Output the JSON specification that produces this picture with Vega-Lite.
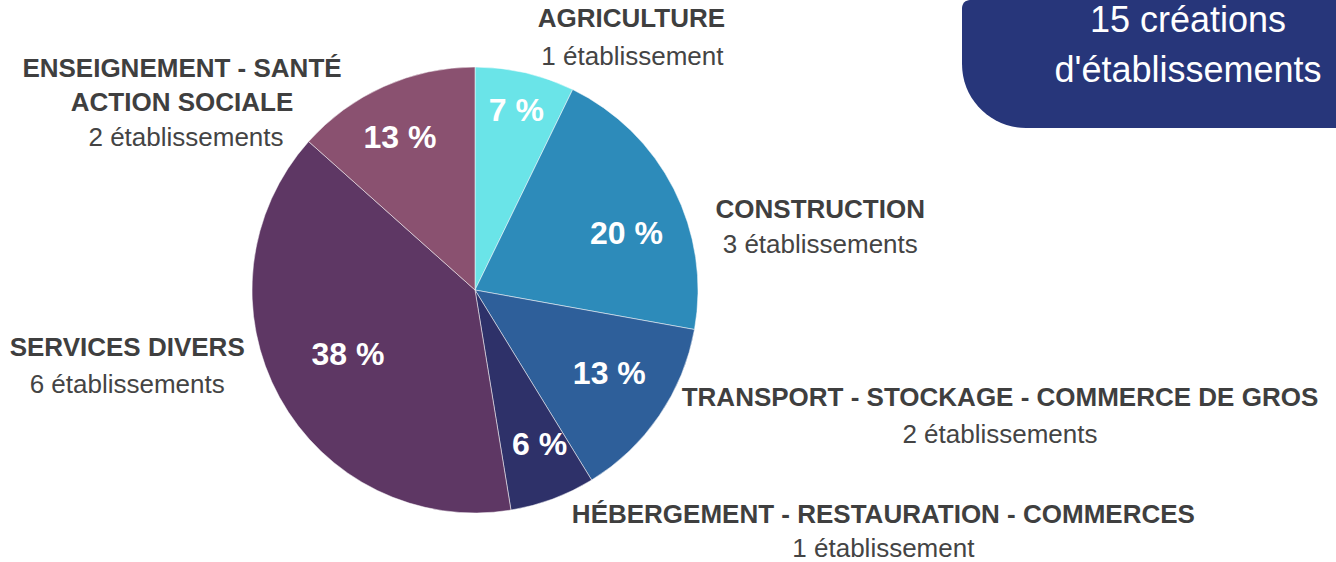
{
  "$schema": "https://vega.github.io/schema/vega-lite/v6.json",
  "background": "#ffffff",
  "padding": {"left": 0, "top": 0, "right": 0, "bottom": -18},
  "config": {"view": {"stroke": null}, "font": "Liberation Sans"},
  "datasets": {
    "pie": [
      {"ord": 1, "label": "AGRICULTURE", "value": 7, "pct": "7 %", "count": "1 établissement"},
      {"ord": 2, "label": "CONSTRUCTION", "value": 20, "pct": "20 %", "count": "3 établissements"},
      {"ord": 3, "label": "TRANSPORT - STOCKAGE - COMMERCE DE GROS", "value": 13, "pct": "13 %", "count": "2 établissements"},
      {"ord": 4, "label": "HÉBERGEMENT - RESTAURATION - COMMERCES", "value": 6, "pct": "6 %", "count": "1 établissement"},
      {"ord": 5, "label": "SERVICES DIVERS", "value": 38, "pct": "38 %", "count": "6 établissements"},
      {"ord": 6, "label": "ENSEIGNEMENT - SANTÉ\nACTION SOCIALE", "value": 13, "pct": "13 %", "count": "2 établissements"}
    ],
    "banner": [
      {"title": "15 créations\nd'établissements"}
    ]
  },
  "bounds": "flush",
  "spacing": 12,
  "hconcat": [
    {
      "width": 950,
      "height": 580,
      "data": {"name": "pie"},
      "transform": [
        {"stack": "value", "groupby": [], "sort": [{"field": "ord", "order": "ascending"}], "as": ["s0", "s1"]}
      ],
      "layer": [
        {
          "mark": {"type": "arc", "outerRadius": 223, "stroke": "#ffffff", "strokeWidth": 0.5},
          "encoding": {
            "theta": {"field": "s1", "type": "quantitative", "scale": {"nice": false, "zero": true}},
            "theta2": {"field": "s0"},
            "color": {
              "field": "label",
              "type": "nominal",
              "legend": null,
              "scale": {
                "domain": ["AGRICULTURE", "CONSTRUCTION", "TRANSPORT - STOCKAGE - COMMERCE DE GROS", "HÉBERGEMENT - RESTAURATION - COMMERCES", "SERVICES DIVERS", "ENSEIGNEMENT - SANTÉ\nACTION SOCIALE"],
                "range": ["#6ae4e8", "#2d8bba", "#2e5f9a", "#2e3169", "#5e3764", "#8a5170"]
              }
            }
          }
        },

        {"transform": [{"filter": "datum.ord === 1"}],
         "mark": {"type": "text", "radius": 165, "fontSize": 32, "fontWeight": "bold", "color": "#ffffff", "align": "center", "baseline": "middle", "dx": -31, "dy": -31},
         "encoding": {"theta": {"field": "s1", "type": "quantitative"}, "text": {"field": "pct"}}},
        {"transform": [{"filter": "datum.ord === 2"}],
         "mark": {"type": "text", "radius": 165, "fontSize": 32, "fontWeight": "bold", "color": "#ffffff", "align": "center", "baseline": "middle", "dx": -11, "dy": -85},
         "encoding": {"theta": {"field": "s1", "type": "quantitative"}, "text": {"field": "pct"}}},
        {"transform": [{"filter": "datum.ord === 3"}],
         "mark": {"type": "text", "radius": 165, "fontSize": 32, "fontWeight": "bold", "color": "#ffffff", "align": "center", "baseline": "middle", "dx": 48, "dy": -57},
         "encoding": {"theta": {"field": "s1", "type": "quantitative"}, "text": {"field": "pct"}}},
        {"transform": [{"filter": "datum.ord === 4"}],
         "mark": {"type": "text", "radius": 165, "fontSize": 32, "fontWeight": "bold", "color": "#ffffff", "align": "center", "baseline": "middle", "dx": 38, "dy": -8},
         "encoding": {"theta": {"field": "s1", "type": "quantitative"}, "text": {"field": "pct"}}},
        {"transform": [{"filter": "datum.ord === 5"}],
         "mark": {"type": "text", "radius": 165, "fontSize": 32, "fontWeight": "bold", "color": "#ffffff", "align": "center", "baseline": "middle", "dx": -4, "dy": 175},
         "encoding": {"theta": {"field": "s1", "type": "quantitative"}, "text": {"field": "pct"}}},
        {"transform": [{"filter": "datum.ord === 6"}],
         "mark": {"type": "text", "radius": 165, "fontSize": 32, "fontWeight": "bold", "color": "#ffffff", "align": "center", "baseline": "middle", "dx": -75, "dy": 13},
         "encoding": {"theta": {"field": "s1", "type": "quantitative"}, "text": {"field": "pct"}}},

        {"transform": [{"filter": "datum.ord === 1"}],
         "mark": {"type": "text", "radius": 300, "fontSize": 26, "fontWeight": "bold", "color": "#3f3f3f", "align": "center", "baseline": "alphabetic", "dx": 25, "dy": 7},
         "encoding": {"theta": {"field": "s1", "type": "quantitative"}, "text": {"field": "label"}}},
        {"transform": [{"filter": "datum.ord === 1"}],
         "mark": {"type": "text", "radius": 300, "fontSize": 26, "color": "#444444", "align": "center", "baseline": "alphabetic", "dx": 26, "dy": 45},
         "encoding": {"theta": {"field": "s1", "type": "quantitative"}, "text": {"field": "count"}}},

        {"transform": [{"filter": "datum.ord === 2"}],
         "mark": {"type": "text", "radius": 300, "fontSize": 26, "fontWeight": "bold", "color": "#3f3f3f", "align": "center", "baseline": "alphabetic", "dx": 50, "dy": -125},
         "encoding": {"theta": {"field": "s1", "type": "quantitative"}, "text": {"field": "label"}}},
        {"transform": [{"filter": "datum.ord === 2"}],
         "mark": {"type": "text", "radius": 300, "fontSize": 26, "color": "#444444", "align": "center", "baseline": "alphabetic", "dx": 50, "dy": -90},
         "encoding": {"theta": {"field": "s1", "type": "quantitative"}, "text": {"field": "count"}}},

        {"transform": [{"filter": "datum.ord === 3"}],
         "mark": {"type": "text", "radius": 300, "fontSize": 26, "fontWeight": "bold", "color": "#3f3f3f", "align": "center", "baseline": "alphabetic", "dx": 368, "dy": -140},
         "encoding": {"theta": {"field": "s1", "type": "quantitative"}, "text": {"field": "label"}}},
        {"transform": [{"filter": "datum.ord === 3"}],
         "mark": {"type": "text", "radius": 300, "fontSize": 26, "color": "#444444", "align": "center", "baseline": "alphabetic", "dx": 368, "dy": -103},
         "encoding": {"theta": {"field": "s1", "type": "quantitative"}, "text": {"field": "count"}}},

        {"transform": [{"filter": "datum.ord === 4"}],
         "mark": {"type": "text", "radius": 300, "fontSize": 26, "fontWeight": "bold", "color": "#3f3f3f", "align": "center", "baseline": "alphabetic", "dx": 360, "dy": -63},
         "encoding": {"theta": {"field": "s1", "type": "quantitative"}, "text": {"field": "label"}}},
        {"transform": [{"filter": "datum.ord === 4"}],
         "mark": {"type": "text", "radius": 300, "fontSize": 26, "color": "#444444", "align": "center", "baseline": "alphabetic", "dx": 360, "dy": -29},
         "encoding": {"theta": {"field": "s1", "type": "quantitative"}, "text": {"field": "count"}}},

        {"transform": [{"filter": "datum.ord === 5"}],
         "mark": {"type": "text", "radius": 300, "fontSize": 26, "fontWeight": "bold", "color": "#3f3f3f", "align": "center", "baseline": "alphabetic", "dx": -124, "dy": 266},
         "encoding": {"theta": {"field": "s1", "type": "quantitative"}, "text": {"field": "label"}}},
        {"transform": [{"filter": "datum.ord === 5"}],
         "mark": {"type": "text", "radius": 300, "fontSize": 26, "color": "#444444", "align": "center", "baseline": "alphabetic", "dx": -124, "dy": 303},
         "encoding": {"theta": {"field": "s1", "type": "quantitative"}, "text": {"field": "count"}}},

        {"transform": [{"filter": "datum.ord === 6"}],
         "mark": {"type": "text", "radius": 300, "fontSize": 26, "fontWeight": "bold", "color": "#3f3f3f", "align": "center", "baseline": "alphabetic", "lineBreak": "\n", "lineHeight": 34, "dx": -293, "dy": 87},
         "encoding": {"theta": {"field": "s1", "type": "quantitative"}, "text": {"field": "label"}}},
        {"transform": [{"filter": "datum.ord === 6"}],
         "mark": {"type": "text", "radius": 300, "fontSize": 26, "color": "#444444", "align": "center", "baseline": "alphabetic", "dx": -289, "dy": 156},
         "encoding": {"theta": {"field": "s1", "type": "quantitative"}, "text": {"field": "count"}}}
      ]
    },
    {
      "width": 374,
      "height": 128,
      "data": {"name": "banner"},
      "layer": [
        {"mark": {"type": "rect", "color": "#27367a", "cornerRadiusBottomLeft": 68, "cornerRadiusTopLeft": 8}, "encoding": {}},
        {"mark": {"type": "text", "color": "#ffffff", "fontSize": 36, "align": "center", "baseline": "alphabetic", "lineBreak": "\n", "lineHeight": 50, "dx": 39, "dy": -32},
         "encoding": {"text": {"field": "title"}}}
      ]
    }
  ]
}
